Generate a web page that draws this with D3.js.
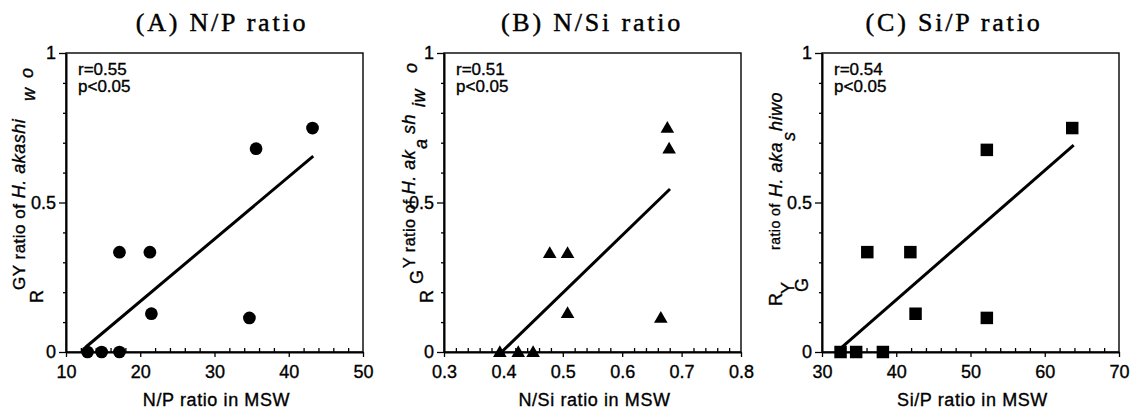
<!DOCTYPE html>
<html><head><meta charset="utf-8">
<script src="https://cdn.jsdelivr.net/npm/d3@7"></script>
<style>
body{margin:0;background:#fff;}
svg{display:block;}
</style></head>
<body><svg id="c" width="1130" height="412"></svg>
<script>
// ---- data ----
const titles = ["(A) N/P ratio", "(B) N/Si ratio", "(C) Si/P ratio"];
const xLabels = ["N/P ratio in MSW", "N/Si ratio in MSW", "Si/P ratio in MSW"];
const xDomains = [[10, 50], [0.3, 0.8], [30, 70]];
const xMajorTicks = [[10, 20, 30, 40, 50], [0.3, 0.4, 0.5, 0.6, 0.7, 0.8], [30, 40, 50, 60, 70]];
const xTickLabels = [["10", "20", "30", "40", "50"], ["0.3", "0.4", "0.5", "0.6", "0.7", "0.8"], ["30", "40", "50", "60", "70"]];
const xMinorStep = [2, 0.02, 2];
const yMajorTicks = [0, 0.5, 1];
const yTickLabels = ["0", "0.5", "1"];
const yMinorTicks = [0.1, 0.2, 0.3, 0.4, 0.6, 0.7, 0.8, 0.9];

const npX  = [12.9, 14.8, 17.2, 17.2, 21.3, 21.5, 34.7, 35.6, 43.2];
const npY  = [0, 0, 0, 0.334, 0.334, 0.128, 0.114, 0.68, 0.749];
const nsiX = [0.394, 0.425, 0.450, 0.478, 0.508, 0.508, 0.665, 0.679, 0.676];
const nsiY = [0, 0, 0, 0.331, 0.331, 0.130, 0.114, 0.68, 0.75];
const sipX = [32.5, 34.6, 38.2, 36.1, 41.9, 42.6, 52.2, 52.2, 63.7];
const sipY = [0, 0, 0, 0.334, 0.334, 0.128, 0.114, 0.676, 0.749];

const fitA = {x: [12.6, 43.3], y: [0.015, 0.655]};
const fitB = {x: [0.397, 0.6805], y: [0.0, 0.545]};
const fitC = {x: [32.5, 63.9], y: [0.012, 0.692]};

const statsText = [["r=0.55", "p<0.05"], ["r=0.51", "p<0.05"], ["r=0.54", "p<0.05"]];

const panels = [
  {xs: npX, ys: npY, fit: fitA, sym: d3.symbolCircle},
  {xs: nsiX, ys: nsiY, fit: fitB, sym: d3.symbolTriangle},
  {xs: sipX, ys: sipY, fit: fitC, sym: d3.symbolSquare}
];

// garbled y-axis label pieces: [text, italic, startY(page) or null to flow, baselineX(page), size]
const yLabelParts = [
  [["R",0,303,43,18],["GY ratio of ",0,290,25,17],["H. akashi",1,null,25,18],["w",1,101,35,18],["o",1,78,33,18]],
  [["R",0,303,433,18],["G",0,284,423,18],["Y ratio of ",0,268,415,16],["H. ak",1,null,415,18],["a",1,149,427,18],["sh",1,134,415,18],["iw",1,107,425,18],["o",1,73,417,18]],
  [["R",0,306,782,18],["G",0,292,808,18],["Y",0,294,794,18],["ratio of",0,250,780,14],["H. aka",1,197,782,18],["s",1,141,795,18],["hiwo",1,131,782,18]]
];

// ---- layout ----
const lefts = [66, 444, 822];
const W = 297, plotTop = 53, plotBottom = 352;
const titleCx = [222, 592, 954];

const svg = d3.select("#c");
const sans = "'Liberation Sans', Arial, Helvetica, sans-serif";
const heavy = sel => sel.attr("stroke", "#000").attr("stroke-width", 0.35).attr("fill", "#000");

panels.forEach((p, i) => {
  const x = d3.scaleLinear().domain(xDomains[i]).range([lefts[i], lefts[i] + W]);
  const y = d3.scaleLinear().domain([0, 1]).range([plotBottom, plotTop]);
  const g = svg.append("g");

  // title
  svg.append("text").attr("x", titleCx[i]).attr("y", 31)
    .attr("text-anchor", "middle")
    .style("font-family", "'Liberation Serif', 'Times New Roman', serif")
    .style("font-size", "26px").style("letter-spacing", "2.8px")
    .call(heavy).attr("stroke-width", 0.45)
    .text(titles[i]);

  // frame
  g.append("rect").attr("x", lefts[i]).attr("y", plotTop).attr("width", W).attr("height", plotBottom - plotTop)
    .attr("fill", "none").attr("stroke", "#000").attr("stroke-width", 1.4);

  // minor x ticks (inward)
  const [d0, d1] = xDomains[i];
  const st = xMinorStep[i];
  const minorX = d3.range(Math.round((d1 - d0) / st) + 1).map(k => +(d0 + k * st).toFixed(4))
    .filter(v => !xMajorTicks[i].some(m => Math.abs(m - v) < 1e-6));
  const axMinX = g.append("g").attr("transform", `translate(0,${plotBottom})`)
    .call(d3.axisBottom(x).tickValues(minorX).tickSize(-4).tickFormat(""));
  axMinX.select(".domain").remove();

  // major x axis
  const axX = g.append("g").attr("transform", `translate(0,${plotBottom})`)
    .call(d3.axisBottom(x).tickValues(xMajorTicks[i]).tickSizeInner(5).tickSizeOuter(0).tickPadding(8)
      .tickFormat((d, k) => xTickLabels[i][k]));
  axX.select(".domain").attr("stroke-width", 1.8);

  // minor y ticks (outward)
  const axMinY = g.append("g").attr("transform", `translate(${lefts[i]},0)`)
    .call(d3.axisLeft(y).tickValues(yMinorTicks).tickSize(3).tickFormat(""));
  axMinY.select(".domain").remove();

  // major y axis
  const axY = g.append("g").attr("transform", `translate(${lefts[i]},0)`)
    .call(d3.axisLeft(y).tickValues(yMajorTicks).tickSizeInner(7).tickSizeOuter(0).tickPadding(3)
      .tickFormat((d, k) => yTickLabels[k]));
  axY.select(".domain").attr("stroke-width", 2);

  g.selectAll(".tick line").attr("stroke", "#000").attr("stroke-width", 1.3);
  g.selectAll(".tick text").call(heavy)
    .style("font-family", sans).style("font-size", "18px");

  // x label
  svg.append("text").attr("x", lefts[i] + W / 2 + 2).attr("y", 406)
    .attr("text-anchor", "middle")
    .style("font-family", sans).style("font-size", "18px").style("letter-spacing", "0.6px")
    .call(heavy)
    .text(xLabels[i]);

  // y label (rotated, garbled sub/superscripts)
  const yl = svg.append("text").attr("transform", "rotate(-90)")
    .style("font-family", sans).style("letter-spacing", "0.5px").call(heavy);
  yLabelParts[i].forEach(seg => {
    const t = yl.append("tspan").attr("y", seg[3])
      .style("font-style", seg[1] ? "italic" : "normal")
      .style("font-size", seg[4] + "px")
      .text(seg[0]);
    if (seg[2] !== null) t.attr("x", -seg[2]);
  });

  // stats
  statsText[i].forEach((t, k) => {
    svg.append("text").attr("x", lefts[i] + 12).attr("y", 75 + k * 17)
      .style("font-family", sans).style("font-size", "17px")
      .call(heavy)
      .text(t);
  });

  // regression line
  g.append("line")
    .attr("x1", x(p.fit.x[0])).attr("y1", y(p.fit.y[0]))
    .attr("x2", x(p.fit.x[1])).attr("y2", y(p.fit.y[1]))
    .attr("stroke", "#000").attr("stroke-width", 3);

  // markers
  const sz = i === 0 ? 127 : (i === 1 ? 80 : 156);
  const sym = d3.symbol().type(p.sym).size(sz);
  g.selectAll("path.pt").data(p.xs.map((v, k) => [v, p.ys[k]])).enter()
    .append("path").attr("class", "pt")
    .attr("transform", d => `translate(${x(d[0])},${y(d[1]) + (i === 1 ? 1 : 0)})`)
    .attr("d", sym).attr("fill", "#000");
});
</script></body></html>
